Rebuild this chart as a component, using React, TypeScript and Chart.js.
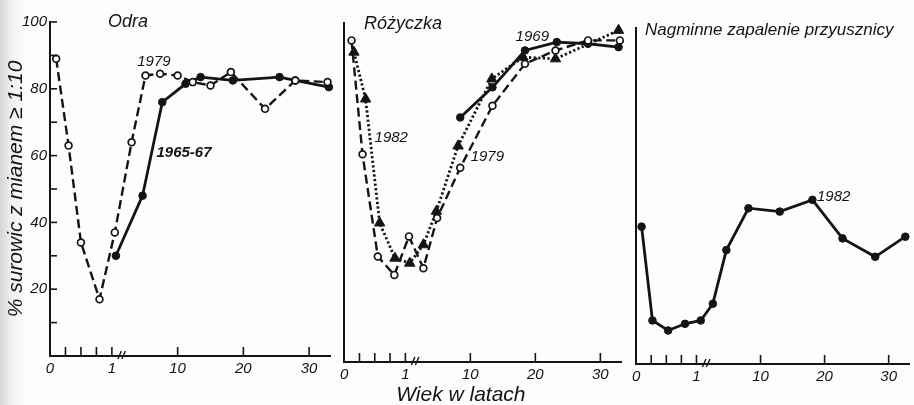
import React, { useEffect, useRef } from "react";
import { Chart, registerables } from "chart.js";

Chart.register(...registerables);

// Age of each sample group (years) and % of sera with titre >= 1:10
const odraAge1979 = [0.1, 0.3, 0.5, 0.8, 1.4, 3.7, 5.6, 7.6, 10, 12.3, 15, 18.1, 23.3, 27.9, 32.8];
const odraPct1979 = [89, 63, 34, 17, 37, 64, 84, 84.5, 84, 82, 81, 85, 74, 82.5, 82];
const odraAge1965 = [1.55, 5.2, 7.9, 11.2, 13.5, 18.4, 25.5, 27.9, 33];
const odraPct1965 = [30, 48, 76, 81.5, 83.5, 82.5, 83.5, 82.5, 80.5];

const rozAge1979 = [0.12, 0.3, 0.55, 0.82, 1.5, 3.5, 5.4, 8.6, 13.4, 18.4, 23.1, 28.1, 33];
const rozPct1979 = [96, 62, 31.5, 26, 37.5, 28, 43, 58, 76.5, 89, 93, 96, 96];
const rozAge1982 = [0.16, 0.35, 0.58, 0.83, 1.6, 3.5, 5.3, 8.3, 13.3, 18.1, 23.1, 32.8];
const rozPct1982 = [92.5, 78.5, 41.5, 31, 29.5, 35, 45, 64.5, 84.5, 91, 90.5, 99];
const rozAge1969 = [8.6, 13.4, 18.4, 23.3, 28.1, 32.8];
const rozPct1969 = [73, 82, 93, 95.5, 95, 94];

const mumpsAge1982 = [0.09, 0.27, 0.53, 0.81, 1.6, 3.3, 5.2, 8.3, 13, 18.1, 22.8, 27.9, 32.6];
const mumpsPct1982 = [41, 13, 10, 12, 13, 18, 34, 46.5, 45.5, 49, 37.5, 32, 38];

// Axis ticks
const xTickAges = [0, 0.25, 0.5, 0.75, 1, 10, 20, 30];
const xTickLabels = ["0", "", "", "", "1", "10", "20", "30"];
const yTickValues = [0, 10, 20, 30, 40, 50, 60, 70, 80, 90, 100];
const yTickLabels = ["", "", "20", "", "40", "", "60", "", "80", "", "100"];

const INK = "#141414";
const FONT = "'Liberation Sans', Arial, sans-serif";

// Broken age axis: first year in quarters, then a compressed stretch to 10, then linear
function ageToU(a: number): number {
  if (a <= 1) return 4 * a;
  if (a <= 10) return 4 + ((a - 1) * 4.25) / 9;
  return 8.25 + (a - 10) * 0.425;
}
const X_MAX = 18.1;

type Note = { text: string; u: number; pct: number; size: number; bold?: boolean; align?: CanvasTextAlign };

const dashedOpen = {
  borderColor: INK,
  borderWidth: 2.4,
  borderDash: [9, 4.5],
  pointStyle: "circle",
  pointRadius: 3.4,
  pointBackgroundColor: "#ffffff",
  pointBorderColor: INK,
  pointBorderWidth: 1.7,
};
const solidFilled = {
  borderColor: INK,
  borderWidth: 2.8,
  pointStyle: "circle",
  pointRadius: 3.8,
  pointBackgroundColor: INK,
  pointBorderColor: INK,
  pointBorderWidth: 1,
};
const dottedTriangle = {
  borderColor: INK,
  borderWidth: 2.8,
  borderDash: [2.2, 2.4],
  pointStyle: "triangle",
  pointRadius: 6,
  pointBackgroundColor: INK,
  pointBorderColor: INK,
  pointBorderWidth: 1,
};

function series(label: string, ages: number[], pcts: number[], style: object) {
  return {
    label,
    data: ages.map((a, i) => ({ x: ageToU(a), y: pcts[i] })),
    ...style,
    fill: false,
    tension: 0,
    clip: false as const,
  };
}

// Inward tick marks, axis break sign and free text
const decorations = {
  id: "decorations",
  afterDraw(chart: any, _args: any, opts: any) {
    const ctx = chart.ctx as CanvasRenderingContext2D;
    const xs = chart.scales.x;
    const ys = chart.scales.y;
    ctx.save();
    ctx.strokeStyle = INK;
    ctx.lineWidth = 1.6;
    for (const a of xTickAges) {
      if (a === 0) continue;
      const px = xs.getPixelForValue(ageToU(a));
      ctx.beginPath();
      ctx.moveTo(px, ys.bottom);
      ctx.lineTo(px, ys.bottom - 9);
      ctx.stroke();
    }
    if (opts.yTicks) {
      for (const v of yTickValues) {
        if (v === 0) continue;
        const py = ys.getPixelForValue(v);
        ctx.beginPath();
        ctx.moveTo(xs.left, py);
        ctx.lineTo(xs.left + 7, py);
        ctx.stroke();
      }
    }
    // break sign just past age 1
    const bx = xs.getPixelForValue(ageToU(1)) + 8;
    ctx.lineWidth = 1.4;
    for (const dx of [0, 4]) {
      ctx.beginPath();
      ctx.moveTo(bx + dx - 2, ys.bottom + 3);
      ctx.lineTo(bx + dx + 1.5, ys.bottom - 5);
      ctx.stroke();
    }
    ctx.fillStyle = INK;
    ctx.textBaseline = "middle";
    for (const n of (opts.notes || []) as Note[]) {
      ctx.font = `italic ${n.bold ? "bold " : ""}${n.size}px ${FONT}`;
      ctx.textAlign = n.align || "center";
      ctx.fillText(n.text, xs.getPixelForValue(n.u), ys.getPixelForValue(n.pct));
    }
    ctx.restore();
  },
};

type PanelProps = {
  left: number;
  width: number;
  padLeft: number;
  padRight: number;
  padTop: number;
  axisY: number;
  yMax: number;
  yLabels: boolean;
  datasets: any[];
  notes: Note[];
};

function Panel(p: PanelProps) {
  const ref = useRef<HTMLCanvasElement | null>(null);
  useEffect(() => {
    if (!ref.current) return;
    const tickFont = { family: FONT, size: 15, style: "italic" as const };
    const chart = new Chart(ref.current, {
      type: "line",
      data: { datasets: p.datasets },
      plugins: [decorations],
      options: {
        animation: false,
        responsive: false,
        devicePixelRatio: 1,
        layout: { padding: { left: p.padLeft, right: p.padRight, top: p.padTop, bottom: 0 } },
        plugins: {
          legend: { display: false },
          tooltip: { enabled: false },
          decorations: { yTicks: p.yLabels, notes: p.notes },
        } as any,
        scales: {
          x: {
            type: "linear",
            min: 0,
            max: X_MAX,
            afterBuildTicks: (s: any) => {
              s.ticks = xTickAges.map((a) => ({ value: ageToU(a) }));
            },
            afterFit: (s: any) => {
              s.height = 405 - p.axisY;
            },
            ticks: {
              autoSkip: false,
              maxRotation: 0,
              padding: 4,
              color: INK,
              font: tickFont,
              callback: (_v: any, i: number) => xTickLabels[i],
            },
            grid: { display: true, drawOnChartArea: false, drawTicks: false },
            border: { display: true, color: INK, width: 2 },
          },
          y: {
            type: "linear",
            min: 0,
            max: p.yMax,
            afterBuildTicks: (s: any) => {
              s.ticks = yTickValues.map((v) => ({ value: v }));
            },
            afterFit: (s: any) => {
              s.width = p.yLabels ? 50 : 0;
            },
            ticks: {
              display: p.yLabels,
              autoSkip: false,
              padding: 3,
              color: INK,
              font: tickFont,
              callback: (_v: any, i: number) => yTickLabels[i],
            },
            title: {
              display: p.yLabels,
              text: "% surowic z mianem ≥ 1:10",
              color: INK,
              font: { family: FONT, size: 21, style: "italic" },
              padding: { top: 4, bottom: 0 },
            },
            grid: { display: true, drawOnChartArea: false, drawTicks: false },
            border: { display: true, color: INK, width: 2 },
          },
        },
      },
    });
    return () => chart.destroy();
  }, []);
  return (
    <canvas
      ref={ref}
      width={p.width}
      height={405}
      style={{ position: "absolute", left: p.left, top: 0 }}
    />
  );
}

export default function App() {
  return (
    <div
      style={{
        position: "absolute",
        left: 0,
        top: 0,
        width: 914,
        height: 405,
        overflow: "hidden",
        background:
          "linear-gradient(to right, rgba(0,0,0,0.16) 0px, rgba(0,0,0,0.06) 10px, rgba(0,0,0,0) 26px), #fdfdfc",
      }}
    >
      <Panel
        left={0}
        width={336}
        padLeft={0}
        padRight={6}
        padTop={22}
        axisY={356}
        yMax={100}
        yLabels={true}
        datasets={[
          series("1979", odraAge1979, odraPct1979, dashedOpen),
          series("1965-67", odraAge1965, odraPct1965, solidFilled),
        ]}
        notes={[
          { text: "Odra", u: 5.04, pct: 100, size: 18 },
          { text: "1979", u: 6.72, pct: 88, size: 15 },
          { text: "1965-67", u: 8.66, pct: 60.8, size: 15, bold: true },
        ]}
      />
      <Panel
        left={336}
        width={292}
        padLeft={6}
        padRight={3}
        padTop={23}
        axisY={362}
        yMax={101.2}
        yLabels={false}
        datasets={[
          series("1979", rozAge1979, rozPct1979, dashedOpen),
          series("1969", rozAge1969, rozPct1969, solidFilled),
          series("1982", rozAge1982, rozPct1982, dottedTriangle),
        ]}
        notes={[
          { text: "Różyczka", u: 3.85, pct: 101, size: 18 },
          { text: "1982", u: 3.08, pct: 67, size: 15 },
          { text: "1969", u: 12.3, pct: 97, size: 15 },
          { text: "1979", u: 9.36, pct: 61.2, size: 15 },
          { text: "Wiek w latach", u: 7.63, pct: -9.9, size: 21 },
        ]}
      />
      <Panel
        left={628}
        width={286}
        padLeft={7}
        padRight={0}
        padTop={28}
        axisY={364}
        yMax={100.3}
        yLabels={false}
        datasets={[series("1982", mumpsAge1982, mumpsPct1982, solidFilled)]}
        notes={[
          { text: "Nagminne zapalenie przyusznicy", u: 8.83, pct: 99.5, size: 17 },
          { text: "1982", u: 13.1, pct: 49.9, size: 15 },
        ]}
      />
    </div>
  );
}
